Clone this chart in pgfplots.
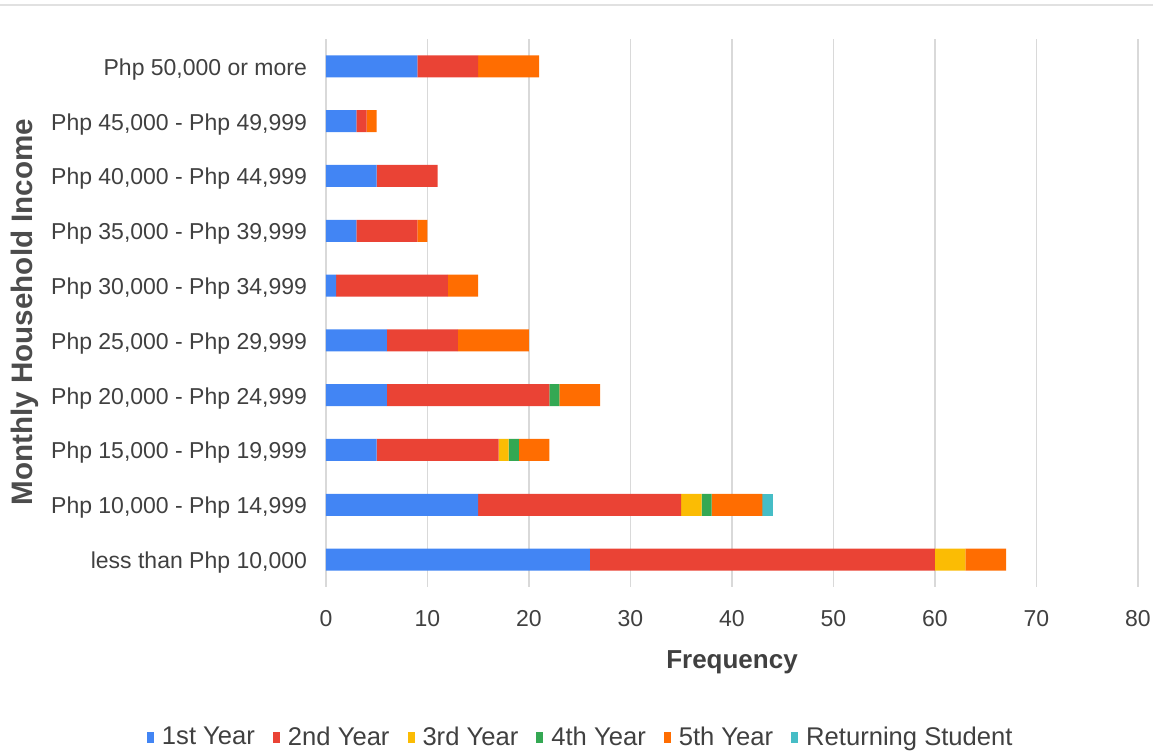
\documentclass[border=0pt]{standalone}
\usepackage{pgfplots}
\pgfplotsset{compat=1.18}
\usepackage{fontspec}
\setmainfont{Liberation Sans}

\definecolor{cA}{HTML}{4285F4}
\definecolor{cB}{HTML}{EA4335}
\definecolor{cC}{HTML}{FBBC04}
\definecolor{cD}{HTML}{34A853}
\definecolor{cE}{HTML}{FF6D01}
\definecolor{cF}{HTML}{46BDC6}
\definecolor{gridgray}{HTML}{D9D9D9}

\begin{document}
\begin{tikzpicture}
  % picture frame: 1 px of the reference = 0.5pt
  \useasboundingbox (0,0) rectangle (576.5pt,376.5pt);
  \draw[line width=1pt, draw=gridgray!80] (0,374pt) -- (576.5pt,374pt);

  \begin{axis}[
      at={(163pt,83pt)}, anchor=south west,
      scale only axis,
      width=406pt, height=274pt,
      xbar stacked,
      bar width=11pt,
      xmin=0, xmax=80,
      ymin=-0.5, ymax=9.5,
      xtick={0,10,...,80},
      ytick={0,...,9},
      yticklabels={less than Php 10{,}000, Php 10{,}000 - Php 14{,}999,
        Php 15{,}000 - Php 19{,}999, Php 20{,}000 - Php 24{,}999,
        Php 25{,}000 - Php 29{,}999, Php 30{,}000 - Php 34{,}999,
        Php 35{,}000 - Php 39{,}999, Php 40{,}000 - Php 44{,}999,
        Php 45{,}000 - Php 49{,}999, Php 50{,}000 or more},
      xmajorgrids,
      grid style={gridgray, line width=0.6pt},
      axis line style={draw=none},
      major tick length=0pt,
      /pgf/number format/assume math mode=true,
      tick label style={font=\fontsize{11.5}{13}\selectfont, text=black!75},
      yticklabel style={xshift=-6pt, yshift=-1.5pt},
      xticklabel style={yshift=-8pt},
      xlabel={Frequency},
      xlabel style={font=\bfseries\fontsize{13}{15}\selectfont, text=black!75,
        at={(rel axis cs:0.5,0)}, anchor=center, yshift=-37.5pt},
      legend style={draw=none, fill=none, legend columns=6,
        at={(0.315,-0.275)}, anchor=center,
        font=\fontsize{12.8}{14}\selectfont, text=black!75,
        /tikz/every even column/.append style={column sep=7pt}},
      legend image code/.code={\fill[#1] (0pt,-2.6pt) rectangle (3.5pt,2.6pt);
        \path (5.5pt,0);},
      every axis plot/.append style={draw=none},
    ]
    \addplot[fill=cA] coordinates {(26,0) (15,1) (5,2) (6,3) (6,4) (1,5) (3,6) (5,7) (3,8) (9,9)};
    \addplot[fill=cB] coordinates {(34,0) (20,1) (12,2) (16,3) (7,4) (11,5) (6,6) (6,7) (1,8) (6,9)};
    \addplot[fill=cC] coordinates {(3,0) (2,1) (1,2) (0,3) (0,4) (0,5) (0,6) (0,7) (0,8) (0,9)};
    \addplot[fill=cD] coordinates {(0,0) (1,1) (1,2) (1,3) (0,4) (0,5) (0,6) (0,7) (0,8) (0,9)};
    \addplot[fill=cE] coordinates {(4,0) (5,1) (3,2) (4,3) (7,4) (3,5) (1,6) (0,7) (1,8) (6,9)};
    \addplot[fill=cF] coordinates {(0,0) (1,1) (0,2) (0,3) (0,4) (0,5) (0,6) (0,7) (0,8) (0,9)};
    \legend{1st Year, 2nd Year, 3rd Year, 4th Year, 5th Year, Returning Student}
  \end{axis}

  \node[rotate=90, font=\bfseries\fontsize{14.8}{16}\selectfont, text=black!70]
    at (12.5pt,220.5pt) {Monthly Household Income};
\end{tikzpicture}
\end{document}
